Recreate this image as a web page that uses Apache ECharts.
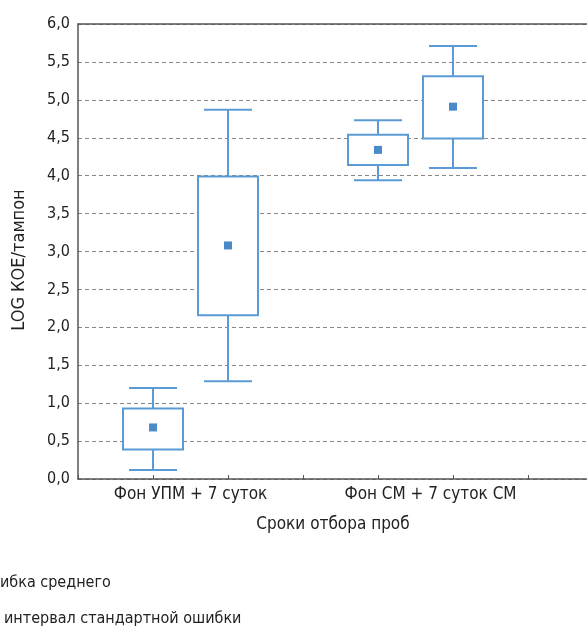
<!DOCTYPE html>
<html><head><meta charset="utf-8">
<script src="https://cdn.jsdelivr.net/npm/echarts@6/dist/echarts.min.js"></script>
<style>html,body{margin:0;padding:0;background:#fff}#c{width:587px;height:628px}</style>
</head><body><div id="c"></div>
<script>
// positions of boxes on x scale
const boxPositions = [1, 2, 4, 5];
const whiskerLow  = [0.12, 1.29, 3.94, 4.10];
const boxLow      = [0.39, 2.16, 4.14, 4.49];
const boxHigh     = [0.93, 3.99, 4.54, 5.31];
const whiskerHigh = [1.20, 4.87, 4.73, 5.71];
const means       = [0.68, 3.08, 4.34, 4.91];
const groupLabels = ['Фон УПМ + 7 суток', 'Фон СМ + 7 суток СМ'];
const groupLabelPos = [1.5, 4.7];
const yTicks = [0, 0.5, 1, 1.5, 2, 2.5, 3, 3.5, 4, 4.5, 5, 5.5, 6];
const xTitle = 'Сроки отбора проб';
const yTitle = 'LOG КОЕ/тампон';
const legendLines = ['ибка среднего', 'интервал стандартной ошибки'];

const FONT = '"Liberation Sans Narrow", "DejaVu Sans Condensed", "Liberation Sans", sans-serif';
const BLUE = '#5b9bd5';
const data = boxPositions.map((p, i) => [p, whiskerLow[i], boxLow[i], boxHigh[i], whiskerHigh[i], means[i]]);

const chart = echarts.init(document.getElementById('c'));
chart.setOption({
  animation: false,
  grid: { left: 78, top: 24, width: 600, height: 455, outerBoundsMode: 'none', containLabel: false },
  xAxis: [
    { type: 'value', min: 0, max: 8, interval: 1, position: 'bottom',
      axisLine: { show: true, lineStyle: { color: '#555', width: 1.5 } },
      axisTick: { show: true, inside: true, length: 4, lineStyle: { color: '#555' } },
      axisLabel: { show: false }, splitLine: { show: false } },
    { type: 'value', min: 0, max: 8, interval: 0.1, position: 'bottom',
      axisLine: { show: false }, axisTick: { show: false }, splitLine: { show: false },
      axisLabel: { show: true, interval: 0, margin: 7, color: '#222', fontSize: 17, fontFamily: FONT,
        formatter: v => { const k = groupLabelPos.findIndex(p => Math.abs(p - v) < 0.01); return k >= 0 ? groupLabels[k] : ''; } } },
    { type: 'value', min: 0, max: 8, position: 'top',
      axisLine: { show: true, lineStyle: { color: '#555', width: 1.5 } },
      axisTick: { show: false }, axisLabel: { show: false }, splitLine: { show: false } }
  ],
  yAxis: {
    type: 'value', min: yTicks[0], max: yTicks[yTicks.length - 1], interval: 0.5,
    axisLine: { show: true, lineStyle: { color: '#555', width: 1.5 } },
    axisTick: { show: false },
    axisLabel: { color: '#222', fontSize: 16, fontFamily: FONT, margin: 8,
      formatter: v => v.toFixed(1).replace('.', ',') },
    splitLine: { show: true, lineStyle: { color: '#888', type: [4, 3], width: 1 } }
  },
  graphic: [
    { type: 'text', x: 333, y: 525, style: { text: xTitle, fill: '#222', font: '17px ' + FONT, textAlign: 'center', textVerticalAlign: 'middle' } },
    { type: 'text', x: 19, y: 260, rotation: Math.PI / 2, style: { text: yTitle, fill: '#222', font: '18px ' + FONT, textAlign: 'center', textVerticalAlign: 'middle' } },
    { type: 'text', x: 0, y: 583, style: { text: legendLines[0], fill: '#222', font: '16px ' + FONT, textVerticalAlign: 'middle' } },
    { type: 'text', x: 4, y: 619, style: { text: legendLines[1], fill: '#222', font: '16px ' + FONT, textVerticalAlign: 'middle' } }
  ],
  series: [{
    type: 'custom',
    xAxisIndex: 0,
    data: data,
    encode: { x: 0, y: [1, 2, 3, 4, 5] },
    renderItem: (params, api) => {
      const x = api.value(0);
      const pWL = api.coord([x, api.value(1)]);
      const pBL = api.coord([x, api.value(2)]);
      const pBH = api.coord([x, api.value(3)]);
      const pWH = api.coord([x, api.value(4)]);
      const pM = api.coord([x, api.value(5)]);
      const cx = pWL[0];
      const bw = 60, cw = 48, ms = 8;
      const ls = { stroke: BLUE, lineWidth: 2, fill: null };
      return { type: 'group', children: [
        { type: 'line', shape: { x1: cx, y1: pBL[1], x2: cx, y2: pWL[1] }, style: ls },
        { type: 'line', shape: { x1: cx, y1: pBH[1], x2: cx, y2: pWH[1] }, style: ls },
        { type: 'line', shape: { x1: cx - cw / 2, y1: pWL[1], x2: cx + cw / 2, y2: pWL[1] }, style: ls },
        { type: 'line', shape: { x1: cx - cw / 2, y1: pWH[1], x2: cx + cw / 2, y2: pWH[1] }, style: ls },
        { type: 'rect', shape: { x: cx - bw / 2, y: pBH[1], width: bw, height: pBL[1] - pBH[1] }, style: { stroke: BLUE, lineWidth: 2, fill: '#fff' } },
        { type: 'rect', shape: { x: cx - ms / 2, y: pM[1] - ms / 2, width: ms, height: ms }, style: { fill: '#4a8ac8' } }
      ] };
    }
  }]
});
</script></body></html>
